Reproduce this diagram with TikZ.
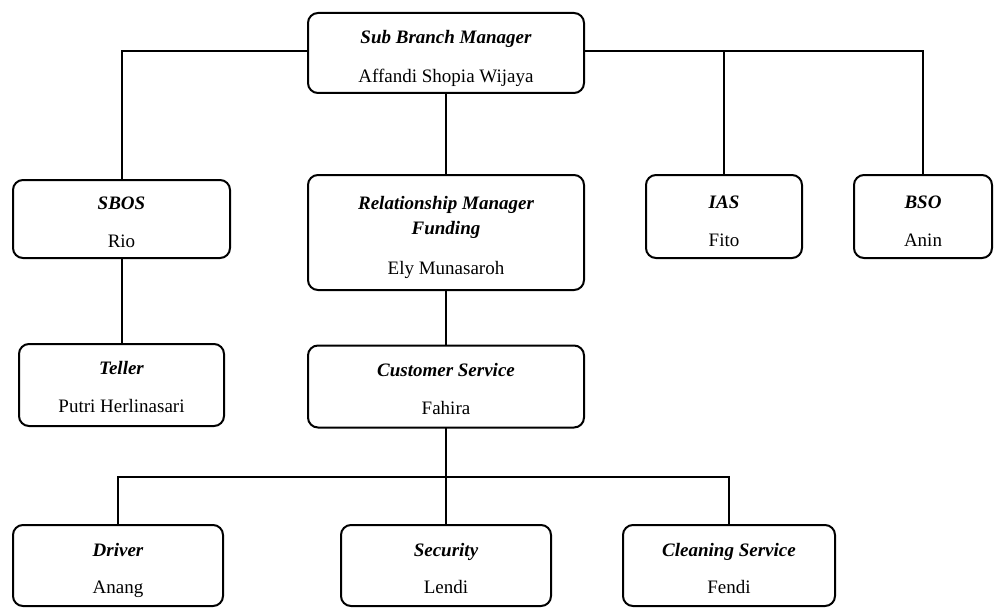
\documentclass[tikz,border=0pt]{standalone}
\usepackage{fontspec}
\setmainfont{Liberation Serif}
\begin{document}
\begin{tikzpicture}[x=1pt,y=-1pt,
  box/.style={draw=black, line width=2pt, rounded corners=10pt, inner sep=0pt, fill=white},
  ttl/.style={font=\fontsize{19}{25}\selectfont\bfseries\itshape, inner sep=0pt, anchor=base},
  nm/.style={font=\fontsize{19}{23}\selectfont, inner sep=0pt, anchor=base},
  conn/.style={line width=2pt, line cap=rect}]
\useasboundingbox (0,0) rectangle (994,610);
\fill[white] (0,0) rectangle (994,610);

% boxes
\node[box, minimum width=276pt, minimum height=80pt] (sbm) at (446,53) {};
\node[box, minimum width=217pt, minimum height=78pt] (sbos) at (121.5,219) {};
\node[box, minimum width=276pt, minimum height=115pt] (rmf) at (446,232.5) {};
\node[box, minimum width=156pt, minimum height=83pt] (ias) at (724,216.5) {};
\node[box, minimum width=138pt, minimum height=83pt] (bso) at (923,216.5) {};
\node[box, minimum width=205pt, minimum height=82pt] (teller) at (121.5,385) {};
\node[box, minimum width=276pt, minimum height=82pt] (cs) at (446,386.5) {};
\node[box, minimum width=210pt, minimum height=81pt] (driver) at (118,565.5) {};
\node[box, minimum width=210pt, minimum height=81pt] (security) at (446,565.5) {};
\node[box, minimum width=212pt, minimum height=81pt] (cleaning) at (729,565.5) {};

% texts (baselines)
\node[ttl] (sbmT) at (446,44) {Sub Branch Manager};
\node[nm] (sbmN) at (446,83) {Affandi Shopia Wijaya};
\node[ttl] (sbosT) at (121.5,209) {SBOS};
\node[nm] (sbosN) at (121.5,247) {Rio};
\node[ttl] (rmfT1) at (446,209) {Relationship Manager};
\node[ttl] (rmfT2) at (446,234) {Funding};
\node[nm] (rmfN) at (446,274) {Ely Munasaroh};
\node[ttl] (iasT) at (724,208) {IAS};
\node[nm] (iasN) at (724,246) {Fito};
\node[ttl] (bsoT) at (923,208) {BSO};
\node[nm] (bsoN) at (923,246) {Anin};
\node[ttl] (tellerT) at (121.5,374) {Teller};
\node[nm] (tellerN) at (121.5,412) {Putri Herlinasari};
\node[ttl] (csT) at (446,376) {Customer Service};
\node[nm] (csN) at (446,414) {Fahira};
\node[ttl] (driverT) at (118,556) {Driver};
\node[nm] (driverN) at (118,593) {Anang};
\node[ttl] (securityT) at (446,556) {Security};
\node[nm] (securityN) at (446,593) {Lendi};
\node[ttl] (cleaningT) at (729,556) {Cleaning Service};
\node[nm] (cleaningN) at (729,593) {Fendi};

% connectors
\coordinate (topbus) at (446,51);
\coordinate (lowbus) at (446,477);
\draw[conn] (sbos.north) |- (sbm.west |- topbus);
\draw[conn] (sbm.east |- topbus) -| (ias.north);
\draw[conn] (sbm.east |- topbus) -| (bso.north);
\draw[conn] (sbm.south) -- (rmf.north);
\draw[conn] (sbos.south) -- (teller.north);
\draw[conn] (rmf.south) -- (cs.north);
\draw[conn] (cs.south) -- (lowbus) -- (security.north);
\draw[conn] (driver.north) |- (lowbus) -| (cleaning.north);
\end{tikzpicture}
\end{document}
